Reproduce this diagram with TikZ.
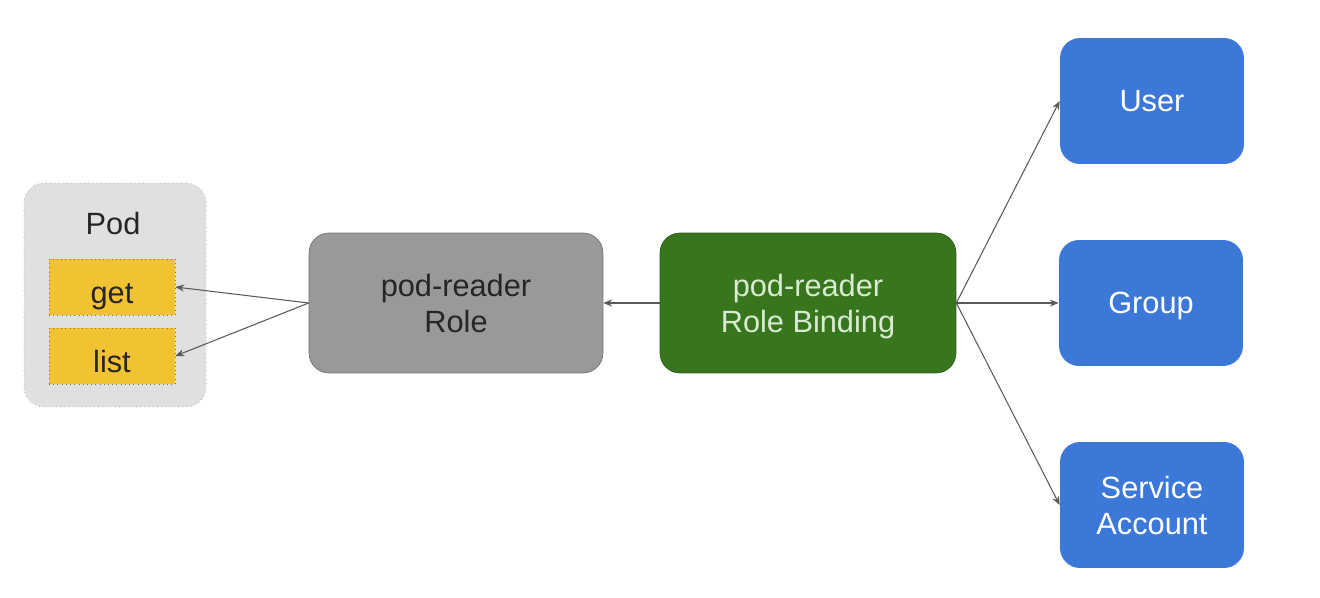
\documentclass[tikz,border=0pt]{standalone}
\usepackage{fontspec}
\setmainfont{Liberation Sans}
\usetikzlibrary{arrows.meta}

\definecolor{podgray}{HTML}{E0E0E0}
\definecolor{verbyellow}{HTML}{F1C232}
\definecolor{rolegray}{HTML}{999999}
\definecolor{bindgreen}{HTML}{38761D}
\definecolor{bindtext}{HTML}{D9EAD3}
\definecolor{subjblue}{HTML}{3C78D8}
\definecolor{linegray}{HTML}{595959}

\tikzset{
  box/.style={rounded corners=0.4cm, align=center, inner sep=0pt, text depth=0pt,
    font=\fontsize{17.5}{20.5}\selectfont},
  verb/.style={draw=verbyellow!60!black, dotted, fill=verbyellow,
    minimum width=2.52cm, minimum height=1.12cm, inner sep=0pt,
    text height=0.68cm, text depth=0pt,
    text=black!85, font=\fontsize{17.5}{20.5}\selectfont},
  subject/.style={box, fill=subjblue, text=white,
    minimum width=3.68cm, minimum height=2.52cm},
  link/.style={draw=linegray, line width=0.6pt, -{Stealth[length=5pt,width=4pt]}}
}

\begin{document}
\begin{tikzpicture}[x=0.02cm, y=-0.02cm]
      \useasboundingbox (0,0) rectangle (1320,598);

      % Pod with its verbs
      \node[box, draw=gray!70, dotted, fill=podgray, minimum width=3.64cm,
        minimum height=4.48cm] (pod) at (115,295) {};
      \node[font=\fontsize{17.5}{20.5}\selectfont, text=black!85] (podlabel) at (113,224) {Pod};
      \node[verb] (get) at (112,287) {get};
      \node[verb] (list) at (112,356) {list};

      % Role and binding
      \node[box, draw=black!55, fill=rolegray, text=black!85,
        minimum width=5.88cm, minimum height=2.8cm] (role) at (456,303) {pod-reader\\Role};
      \node[box, draw=bindgreen!75!black, fill=bindgreen, text=bindtext,
        minimum width=5.92cm, minimum height=2.8cm] (binding) at (808,303) {pod-reader\\Role Binding};

      % Subjects
      \node[subject] (user) at (1152,101) {User};
      \node[subject] (group) at (1151,303) {Group};
      \node[subject] (account) at (1152,505) {Service\\Account};

      % Arrows
      \draw[link] (role.west) -- (get.east);
      \draw[link] (role.west) -- (list.east);
      \draw[link] (binding.west) -- (role.east);
      \coordinate (fan) at (binding.east);
      \draw[link] (fan) -- (user.west);
      \draw[link] (fan) -- (group.west);
      \draw[link] (fan) -- (account.west);
    \end{tikzpicture}
\end{document}
